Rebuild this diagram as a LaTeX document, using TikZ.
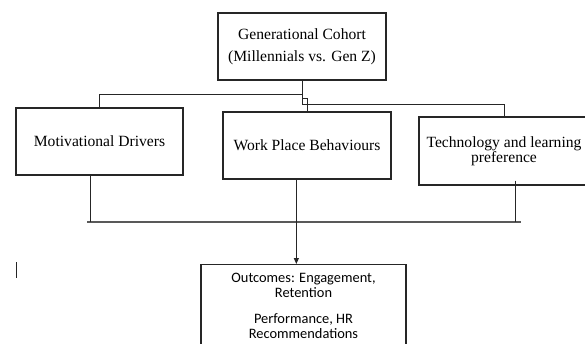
\documentclass[tikz,border=0pt]{standalone}
\usepackage{fontspec}
\setmainfont{Liberation Serif}
\newfontfamily\calib{Carlito}
\usetikzlibrary{calc,arrows.meta}
\begin{document}
\begin{tikzpicture}[x=1pt,y=-1pt,
  box/.style={draw=black!85, line width=1.3pt, fill=white, inner sep=0pt, align=center, font=\fontsize{15.6}{22.5}\selectfont},
  conn/.style={draw=black!85, line width=1pt},
  bar/.style={draw=black!65, line width=2pt}]
\useasboundingbox (0,0) rectangle (585,343);
\clip (0,0) rectangle (585,343);
\fill[white] (0,0) rectangle (585,343);
\node[box, minimum width=168pt, minimum height=67pt] (top) at (302,46.5) {Generational Cohort\\ (Millennials vs. Gen Z)};
\node[box, minimum width=167pt, minimum height=67pt] (motiv) at (99.5,141.5) {Motivational Drivers};
\node[box, minimum width=168pt, minimum height=67pt] (work) at (307,145.5) {Work Place Behaviours};
\node[box, minimum width=170pt, minimum height=68pt, font=\fontsize{15.6}{15}\selectfont] (tech) at (504,151) {Technology and learning\\preference};
\node[box, minimum width=205pt, minimum height=100pt, anchor=north] (out) at (303.5,264) {};
\node[font=\calib\fontsize{14.4}{15}\selectfont, align=center, inner sep=0pt, anchor=north] (outtext) at (303.5,273) {Outcomes: Engagement,\\Retention\\[11pt] Performance, HR\\Recommendations};
% top connectors
\coordinate (j0) at ($(top.south)+(0,14)$);
\coordinate (j1) at ($(top.south)+(0,18)$);
\coordinate (j2) at ($(top.south)+(0,24)$);
\draw[conn] (top.south) -- (j2) -| (tech.north);
\draw[conn] (j0) -| (motiv.north);
\draw[conn] (j1) -| (work.north);
% bottom connectors
\coordinate (bl) at (87,222);
\coordinate (br) at (521,222);
\draw[bar] (bl) -- (br);
\coordinate (ms) at ($(motiv.south west)+(75,0)$);
\coordinate (ts) at ($(tech.south west)+(97,-5)$);
\coordinate (ws) at ($(work.south west)+(74,0)$);
\draw[conn] (ms) -- (ms |- bl);
\draw[conn] (ts) -- (ts |- bl);
\draw[conn, -{Triangle[length=6pt,width=5pt]}] (ws) -- (ws |- out.north);
% stray mark
\coordinate (m1) at (16,262);
\coordinate (m2) at (16,278);
\draw[conn] (m1) -- (m2);
\end{tikzpicture}
\end{document}
